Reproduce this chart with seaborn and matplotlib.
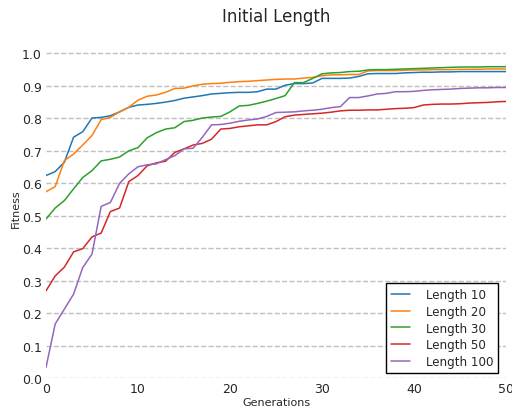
import numpy as np
import pandas as pd
import seaborn as sns
import matplotlib
matplotlib.use('Agg')
import matplotlib.pyplot as plt

# fitness per generation
generations = list(range(51))

len10 = [0.624, 0.636, 0.665, 0.742, 0.759, 0.801, 0.803, 0.808, 0.820, 0.834,
         0.841, 0.843, 0.846, 0.850, 0.855, 0.862, 0.866, 0.870, 0.875, 0.877,
         0.879, 0.880, 0.880, 0.882, 0.890, 0.890, 0.902, 0.907, 0.907, 0.909,
         0.923, 0.923, 0.923, 0.924, 0.929, 0.937, 0.938, 0.938, 0.938, 0.940,
         0.941, 0.942, 0.942, 0.943, 0.943, 0.944, 0.944, 0.944, 0.944, 0.944,
         0.944]
len20 = [0.574, 0.590, 0.670, 0.690, 0.718, 0.747, 0.796, 0.803, 0.820, 0.834,
         0.856, 0.868, 0.872, 0.880, 0.892, 0.893, 0.900, 0.905, 0.907, 0.908,
         0.911, 0.913, 0.914, 0.916, 0.918, 0.920, 0.921, 0.921, 0.924, 0.926,
         0.931, 0.934, 0.934, 0.935, 0.935, 0.946, 0.947, 0.947, 0.947, 0.948,
         0.949, 0.949, 0.950, 0.950, 0.950, 0.951, 0.951, 0.951, 0.952, 0.952,
         0.952]
len30 = [0.490, 0.524, 0.547, 0.583, 0.618, 0.639, 0.669, 0.674, 0.681, 0.700,
         0.710, 0.740, 0.756, 0.767, 0.771, 0.790, 0.794, 0.801, 0.804, 0.806,
         0.820, 0.838, 0.840, 0.846, 0.853, 0.861, 0.870, 0.910, 0.910, 0.923,
         0.937, 0.940, 0.941, 0.944, 0.945, 0.949, 0.950, 0.950, 0.951, 0.952,
         0.953, 0.954, 0.955, 0.956, 0.957, 0.958, 0.958, 0.958, 0.959, 0.959,
         0.959]
len50 = [0.269, 0.315, 0.342, 0.389, 0.399, 0.435, 0.447, 0.513, 0.524, 0.605,
         0.624, 0.654, 0.663, 0.668, 0.695, 0.706, 0.718, 0.723, 0.736, 0.767,
         0.769, 0.774, 0.777, 0.780, 0.780, 0.790, 0.805, 0.810, 0.812, 0.814,
         0.816, 0.819, 0.823, 0.825, 0.825, 0.826, 0.826, 0.828, 0.830, 0.831,
         0.833, 0.841, 0.843, 0.844, 0.844, 0.845, 0.847, 0.848, 0.849, 0.851,
         0.852]
len100 = [0.033, 0.167, 0.213, 0.259, 0.341, 0.382, 0.529, 0.541, 0.600, 0.629,
          0.651, 0.657, 0.660, 0.673, 0.685, 0.706, 0.708, 0.742, 0.780, 0.781,
          0.785, 0.791, 0.795, 0.798, 0.806, 0.818, 0.819, 0.820, 0.823, 0.825,
          0.828, 0.833, 0.836, 0.864, 0.864, 0.869, 0.875, 0.877, 0.882, 0.882,
          0.883, 0.886, 0.888, 0.889, 0.890, 0.892, 0.893, 0.894, 0.894, 0.895,
          0.895]

names = ['Length 10', 'Length 20', 'Length 30', 'Length 50', 'Length 100']
series = [len10, len20, len30, len50, len100]

df = pd.concat([pd.DataFrame({'Generations': generations, 'Fitness': s, 'run': n})
                for n, s in zip(names, series)])

sns.set_style('white')
plt.rcParams['font.family'] = ['DejaVu Sans']

fig = plt.figure(figsize=(5.12, 4.10), dpi=100)
ax = fig.add_axes([0.0898, 0.075, 0.8984, 0.832])

sns.lineplot(data=df, x='Generations', y='Fitness', hue='run', hue_order=names,
             palette='tab10', linewidth=1.1, ax=ax)

ax.set_xlim(0, 50)
ax.set_ylim(0, 1.05)
ax.set_xticks(range(0, 51, 10))
ax.set_yticks(np.arange(0, 1.01, 0.1))
ax.set_yticklabels(['%.1f' % v for v in np.arange(0, 1.01, 0.1)])
ax.tick_params(labelsize=9, length=0, pad=3)
ax.yaxis.grid(True, linestyle='--', color='#c0c0c0', linewidth=1)
ax.xaxis.grid(False)
sns.despine(ax=ax, left=True, bottom=True)
ax.set_xlabel('Generations', fontsize=8, labelpad=1)
ax.set_ylabel('Fitness', fontsize=8, labelpad=0.5)
ax.set_title('Initial Length', fontsize=12, pad=11.5)

leg = ax.legend(loc='lower right', bbox_to_anchor=(0.9826, 0.0155),
                borderaxespad=0, fontsize=8.6, frameon=True, fancybox=False,
                framealpha=1, edgecolor='black',
                handlelength=1.6, handletextpad=1.3, labelspacing=0.32)
leg.get_frame().set_linewidth(1)

fig.savefig('out.png', dpi=100)
